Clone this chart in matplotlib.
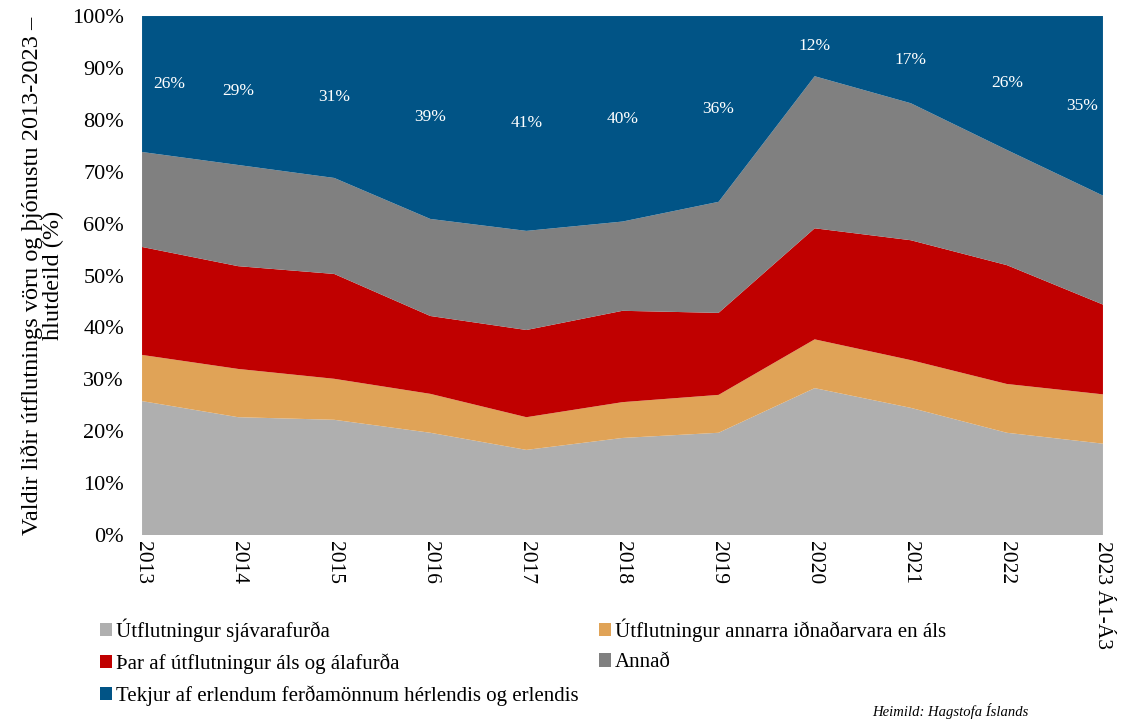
import numpy as np
import matplotlib.pyplot as plt
from matplotlib.patches import Patch

plt.rcParams['font.family'] = ['Liberation Serif', 'DejaVu Serif']

years = ["2013", "2014", "2015", "2016", "2017", "2018", "2019", "2020", "2021", "2022", "2023 Á1-Á3"]

# hlutdeild (%) hvers liðar
sjavarafurdir = [25.8, 22.7, 22.2, 19.7, 16.4, 18.7, 19.7, 28.3, 24.5, 19.7, 17.6]
annar_idnadur = [8.9, 9.3, 7.9, 7.5, 6.3, 6.9, 7.3, 9.4, 9.2, 9.4, 9.5]
al_og_alafurdir = [20.8, 19.8, 20.2, 15.0, 16.8, 17.6, 15.8, 21.4, 23.1, 22.9, 17.3]
annad = [18.3, 19.5, 18.5, 18.7, 19.1, 17.2, 21.4, 29.3, 26.4, 22.2, 21.0]
ferdamenn = [26.2, 28.7, 31.2, 39.1, 41.4, 39.6, 35.8, 11.6, 16.8, 25.8, 34.6]

labels = [
    "Útflutningur sjávarafurða",
    "Útflutningur annarra iðnaðarvara en áls",
    "Þar af útflutningur áls og álafurða",
    "Annað",
    "Tekjur af erlendum ferðamönnum hérlendis og erlendis",
]
colors = ["#AFAFAF", "#E0A357", "#C00000", "#808080", "#015486"]

series = [sjavarafurdir, annar_idnadur, al_og_alafurdir, annad, ferdamenn]

fig = plt.figure(figsize=(11.4, 7.22), dpi=100)
ax = fig.add_axes([0.1246, 0.259, 0.8429, 0.7188])

x = np.arange(len(years))
ax.stackplot(x, *series, colors=colors, linewidth=0)

# data labels in the middle of the tourism band
below = np.sum(series[:4], axis=0)
for i, v in enumerate(ferdamenn):
    ymid = below[i] + v / 2
    ha = "center"
    xo = x[i]
    if i == 0:
        ha, xo = "left", x[i] + 0.12
    elif i == len(years) - 1:
        ha, xo = "right", x[i] - 0.05
    ax.text(xo, ymid, f"{round(v):.0f}%", color="white", fontsize=12.5,
            ha=ha, va="center")

ax.set_xlim(0, len(years) - 1)
ax.set_ylim(0, 100)
ax.set_yticks(np.arange(0, 101, 10))
ax.set_yticklabels([f"{t}%" for t in range(0, 101, 10)], fontsize=16)
ax.set_xticks(x)
ax.set_xticklabels(years, rotation=270, fontsize=15.5, va="top", ha="center")
ax.tick_params(axis="x", length=0, pad=4)
ax.tick_params(axis="y", length=0, pad=13)
for s in ax.spines.values():
    s.set_visible(False)

ax.set_ylabel("Valdir liðir útflutnings vöru og þjónustu 2013-2023 –\nhlutdeild (%)",
              fontsize=17.5, labelpad=6, linespacing=0.95)

order = [0, 2, 4, 1, 3]
handles = [Patch(facecolor=colors[i], edgecolor="none") for i in order]
fig.legend(handles, [labels[i] for i in order], ncol=2, frameon=False,
           loc="upper left", bbox_to_anchor=(0.08, 0.155), fontsize=15,
           handlelength=0.6, handleheight=0.6, handletextpad=0.2,
           columnspacing=0.95, labelspacing=0.55, borderaxespad=0)

fig.text(0.902, 0.004, "Heimild: Hagstofa Íslands", fontsize=10.5, style="italic",
         ha="right", va="bottom")

fig.savefig("out.png", dpi=100)
